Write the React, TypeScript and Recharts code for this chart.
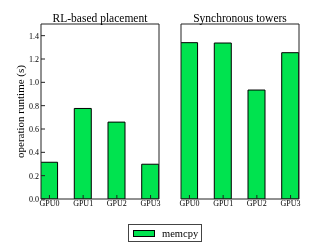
import React from 'react';
import { BarChart, Bar, XAxis, YAxis, Legend } from 'recharts';

const FONT = '"Liberation Serif", "DejaVu Serif", serif';
const GREEN = '#00e34f';
const FRAME = '#222';

const gpus = ['GPU0', 'GPU1', 'GPU2', 'GPU3'];
const rlMemcpy = [0.315, 0.776, 0.659, 0.298];
const syncMemcpy = [1.34, 1.337, 0.934, 1.254];
const yTicks = [0, 0.2, 0.4, 0.6, 0.8, 1.0, 1.2, 1.4];
const panelTitles = ['RL-based placement', 'Synchronous towers'];
const seriesName = 'memcpy';
const yLabel = 'operation runtime (s)';

const barOffset = 0.25;
const xTicks = gpus.map((_, i) => i + barOffset);
const makeData = (vals: number[]) =>
  gpus.map((g, i) => ({ gpu: g, pos: i + barOffset, memcpy: vals[i] }));

const XTick = (props: any) => (
  <text
    x={props.x}
    y={props.y}
    dy="0.71em"
    textAnchor="middle"
    fill="#000"
    fontSize={8}
    style={{ fontFamily: FONT }}
  >
    {gpus[Math.round(props.payload.value - barOffset)]}
  </text>
);

const YTick = (props: any) => (
  <text
    x={props.x}
    y={props.y}
    dy="0.355em"
    textAnchor="end"
    fill="#000"
    fontSize={8}
    style={{ fontFamily: FONT }}
  >
    {Number(props.payload.value).toFixed(1)}
  </text>
);

const renderLegend = (props: any) => {
  const items = props.payload || [];
  return (
    <div
      style={{
        width: 74,
        height: 18,
        boxSizing: 'border-box',
        border: '1px solid #444',
        background: '#fff',
        display: 'flex',
        alignItems: 'center',
        fontFamily: FONT,
        fontSize: 10.5,
        color: '#000',
      }}
    >
      {items.map((it: any) => (
        <div key={it.value} style={{ display: 'flex', alignItems: 'center' }}>
          <span
            style={{
              display: 'inline-block',
              width: 22,
              height: 7,
              boxSizing: 'border-box',
              background: it.color,
              border: '1px solid #000',
              marginLeft: 4,
              marginRight: 7,
            }}
          />
          <span>{it.value}</span>
        </div>
      ))}
    </div>
  );
};

type PanelProps = {
  values: number[];
  title: string;
  first: boolean;
  margin: { top: number; left: number; right: number; bottom: number };
};

const Panel = ({ values, title, first, margin }: PanelProps) => (
  <div style={{ position: 'absolute', left: 0, top: 0, willChange: 'transform' }}>
    <BarChart width={332} height={249} data={makeData(values)} margin={margin}>
      <XAxis
        xAxisId="b"
        type="number"
        dataKey="pos"
        domain={[0, 3.5]}
        ticks={xTicks}
        interval={0}
        allowDataOverflow
        tickSize={-4}
        tickMargin={5}
        height={20}
        axisLine={{ stroke: FRAME }}
        tickLine={{ stroke: FRAME }}
        tick={<XTick />}
      />
      <XAxis
        xAxisId="t"
        orientation="top"
        type="number"
        domain={[0, 3.5]}
        ticks={xTicks}
        interval={0}
        allowDataOverflow
        tick={false}
        tickSize={-3}
        height={1}
        axisLine={{ stroke: FRAME }}
        tickLine={{ stroke: FRAME }}
        label={{
          value: title,
          position: 'top',
          offset: 1.5,
          fill: '#000',
          fontSize: 11.5,
          style: { fontFamily: FONT },
        }}
      />
      <YAxis
        yAxisId="l"
        domain={[0, 1.5]}
        ticks={yTicks}
        interval={0}
        allowDataOverflow
        tickSize={-4}
        tickMargin={6}
        width={30}
        axisLine={{ stroke: FRAME }}
        tickLine={{ stroke: FRAME }}
        tick={first ? <YTick /> : false}
        label={
          first
            ? {
                value: yLabel,
                angle: -90,
                position: 'insideLeft',
                offset: 9,
                fill: '#000',
                fontSize: 11,
                style: { textAnchor: 'middle', fontFamily: FONT },
              }
            : undefined
        }
      />
      <YAxis
        yAxisId="r"
        orientation="right"
        domain={[0, 1.5]}
        ticks={yTicks}
        interval={0}
        allowDataOverflow
        tick={false}
        tickSize={-4}
        width={5}
        axisLine={{ stroke: FRAME }}
        tickLine={{ stroke: FRAME }}
      />
      <Bar
        xAxisId="b"
        yAxisId="l"
        dataKey="memcpy"
        name={seriesName}
        fill={GREEN}
        stroke="#000"
        strokeWidth={1}
        barSize={17}
        legendType="rect"
        isAnimationActive={false}
      />
      {first ? (
        <Legend
          layout="vertical"
          align="center"
          verticalAlign="middle"
          content={renderLegend}
          wrapperStyle={{ position: 'absolute', left: 128, top: 224, width: 74, height: 18 }}
        />
      ) : null}
    </BarChart>
  </div>
);

export default function App() {
  return (
    <div
      style={{
        position: 'absolute',
        left: 0,
        top: 0,
        width: 332,
        height: 249,
        background: '#fff',
        fontFamily: FONT,
      }}
    >
      <Panel values={rlMemcpy} title={panelTitles[0]} first={true} margin={{ top: 23, left: 11, right: 168, bottom: 30 }} />
      <Panel values={syncMemcpy} title={panelTitles[1]} first={false} margin={{ top: 23, left: 151, right: 28, bottom: 30 }} />
    </div>
  );
}
